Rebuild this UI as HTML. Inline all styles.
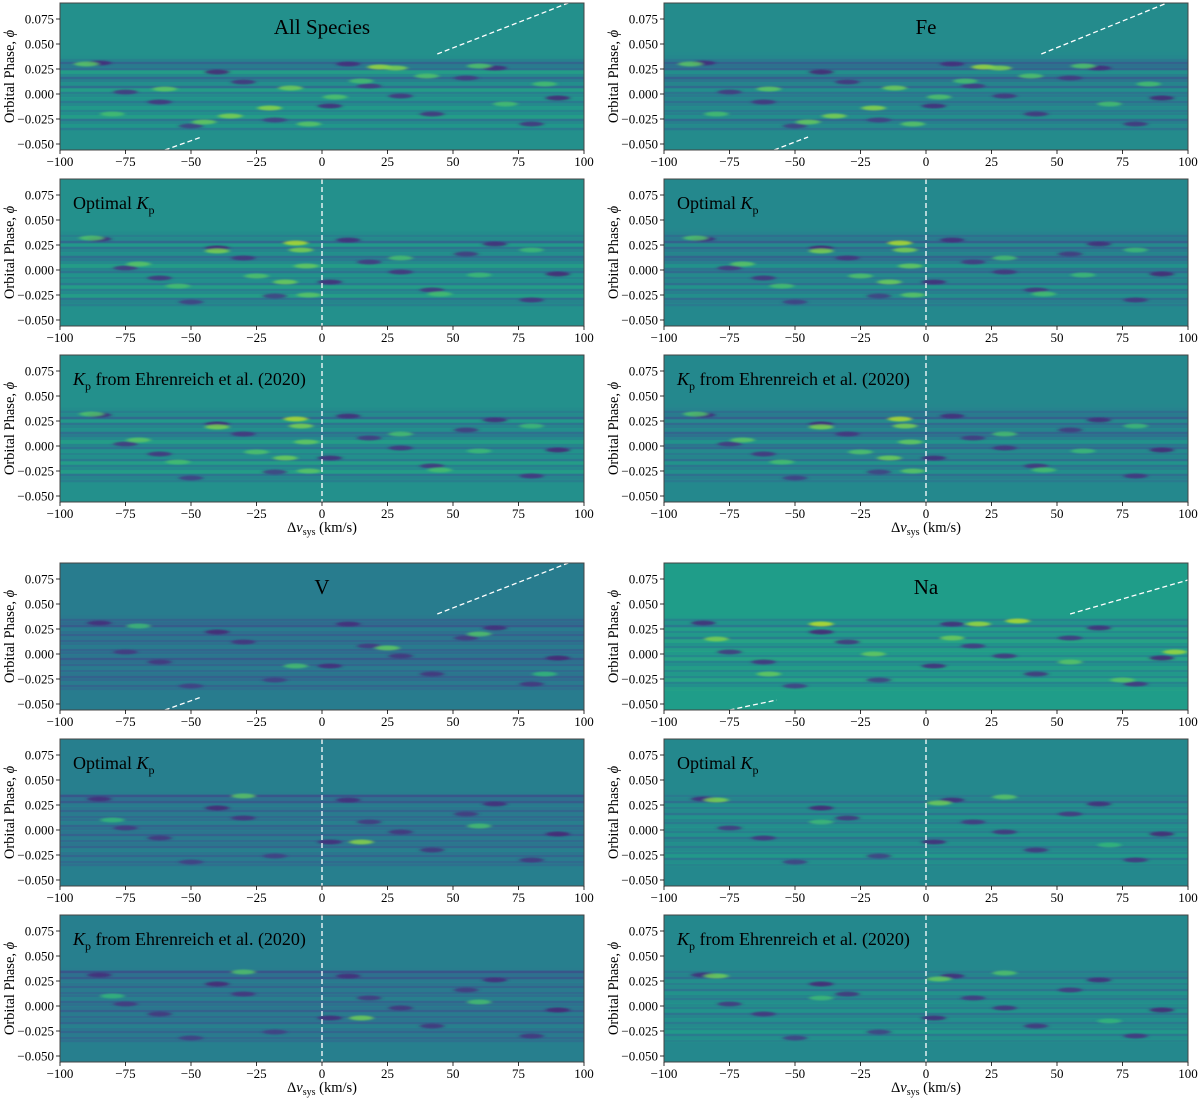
<!DOCTYPE html>
<html><head><meta charset="utf-8">
<style>
html,body{margin:0;padding:0;background:#fff;}
svg{display:block;font-family:"Liberation Serif","DejaVu Serif",serif;}
</style></head>
<body>
<svg id="fig" width="1200" height="1098" viewBox="0 0 1200 1098" xmlns="http://www.w3.org/2000/svg"></svg>
<script>
// ---- data ----
const xTicks = [-100, -75, -50, -25, 0, 25, 50, 75, 100];
const yTicks = [0.075, 0.050, 0.025, 0.000, -0.025, -0.050];
const yTickLabels = ["0.075", "0.050", "0.025", "0.000", "\u22120.025", "\u22120.050"];
const xTickLabels = ["\u2212100", "\u221275", "\u221250", "\u221225", "0", "25", "50", "75", "100"];
const rowPhases = [-0.036,-0.033,-0.030,-0.027,-0.024,-0.021,-0.018,-0.015,-0.012,-0.009,-0.006,-0.003,0.000,0.003,0.006,0.009,0.012,0.015,0.018,0.021,0.024,0.027,0.030,0.033,0.036,0.039];
const rowsAll  = [0.45,0.55,0.50,0.42,0.58,0.52,0.48,0.56,0.50,0.44,0.54,0.50,0.46,0.58,0.40,0.52,0.46,0.38,0.50,0.58,0.40,0.44,0.36,0.47,0.49,0.50];
const rowsFe   = [0.42,0.50,0.46,0.38,0.52,0.46,0.44,0.50,0.46,0.40,0.48,0.44,0.42,0.52,0.38,0.48,0.42,0.34,0.46,0.52,0.36,0.40,0.34,0.44,0.46,0.47];
const rowsFeKp = [0.44,0.46,0.40,0.52,0.46,0.42,0.54,0.40,0.48,0.44,0.50,0.38,0.42,0.54,0.46,0.40,0.36,0.48,0.44,0.38,0.50,0.34,0.44,0.40,0.44,0.46];
const rowsAKp  = [0.46,0.48,0.42,0.58,0.50,0.46,0.58,0.44,0.52,0.48,0.54,0.42,0.48,0.58,0.50,0.44,0.40,0.52,0.48,0.42,0.56,0.38,0.50,0.46,0.48,0.50];
const rowsV    = [0.40,0.36,0.44,0.38,0.34,0.42,0.38,0.44,0.36,0.40,0.32,0.42,0.38,0.36,0.44,0.40,0.36,0.42,0.34,0.40,0.44,0.32,0.38,0.36,0.40,0.42];
const rowsVKp  = [0.40,0.38,0.44,0.36,0.42,0.46,0.36,0.42,0.38,0.44,0.34,0.42,0.40,0.36,0.46,0.40,0.38,0.44,0.36,0.42,0.44,0.32,0.40,0.30,0.42,0.43];
const rowsNa   = [0.58,0.52,0.48,0.60,0.50,0.56,0.50,0.58,0.52,0.48,0.60,0.50,0.56,0.58,0.48,0.54,0.60,0.46,0.56,0.50,0.58,0.44,0.54,0.48,0.54,0.55];
const rowsNaKp = [0.48,0.52,0.44,0.56,0.48,0.50,0.44,0.52,0.48,0.42,0.54,0.46,0.50,0.52,0.44,0.48,0.54,0.42,0.50,0.46,0.52,0.40,0.48,0.44,0.46,0.47];
// bright spots: velocity, phase, value
const blobV     = [-35, -20, -12, 22, 28, 5, -60, 40, -80, 70, -90, -45, 60, 85, -5, 15];
const blobPhase = [-0.022, -0.014, 0.006, 0.027, 0.026, -0.003, 0.005, 0.018, -0.020, -0.010, 0.030, -0.028, 0.028, 0.010, -0.030, 0.013];
const blobVal   = [0.80, 0.82, 0.78, 0.85, 0.80, 0.72, 0.75, 0.72, 0.70, 0.70, 0.74, 0.76, 0.72, 0.70, 0.74, 0.70];
const kpBlobV     = [-10, -8, -6, -14, -5, -40, -70, 30, 60, -88, -55, 80, 45, -25];
const kpBlobPhase = [0.027, 0.020, 0.004, -0.012, -0.025, 0.019, 0.006, 0.012, -0.005, 0.032, -0.016, 0.020, -0.024, -0.006];
const kpBlobVal   = [0.88, 0.80, 0.76, 0.78, 0.74, 0.80, 0.74, 0.70, 0.68, 0.72, 0.70, 0.68, 0.70, 0.72];
const naBlobV     = [-40, 35, 20, -80, 10, 95, -60, 55, -20, 75];
const naBlobPhase = [0.030, 0.033, 0.030, 0.015, 0.016, 0.002, -0.020, -0.008, 0.000, -0.026];
const naBlobVal   = [0.90, 0.88, 0.85, 0.80, 0.78, 0.85, 0.76, 0.74, 0.76, 0.74];
// dark spots: velocity, phase, value
const darkV     = [-85, -62, -40, -18, 3, 18, 42, 66, 90, -75, -30, 10, 55, 80, -50, 30];
const darkPhase = [0.031, -0.008, 0.022, -0.026, -0.012, 0.008, -0.020, 0.026, -0.004, 0.002, 0.012, 0.030, 0.016, -0.030, -0.032, -0.002];
const darkVal   = [0.12, 0.15, 0.10, 0.18, 0.12, 0.16, 0.14, 0.12, 0.10, 0.16, 0.14, 0.12, 0.16, 0.15, 0.18, 0.14];

const VIR = [[68,1,84],[72,40,120],[62,74,137],[49,104,142],[38,130,142],[31,158,137],[53,183,121],[109,205,89],[180,222,44],[253,231,37]];
function viridis(t){t=Math.max(0,Math.min(1,t));const s=t*(VIR.length-1);const i=Math.min(VIR.length-2,Math.floor(s));const f=s-i;
 const c=VIR[i].map((a,k)=>Math.round(a+(VIR[i+1][k]-a)*f));return `rgb(${c[0]},${c[1]},${c[2]})`;}

const svg=document.getElementById('fig');const NS='http://www.w3.org/2000/svg';
function el(tag,attrs,parent){const e=document.createElementNS(NS,tag);for(const k in attrs)e.setAttribute(k,attrs[k]);(parent||svg).appendChild(e);return e;}
const defs=el('defs',{});
const flt=el('filter',{id:'soft',x:'-50%',y:'-100%',width:'200%',height:'300%'},defs);
el('feGaussianBlur',{stdDeviation:'2 0.8'},flt);

const XMIN=-100,XMAX=100,YMIN=-0.056,YMAX=0.091;
const colX=[60,664], rowY=[3,179,355,563,739,915], W=524, H=147;
const darkSet=[darkV,darkPhase,darkVal];

const panels=[
 {c:0,r:0,bg:0.50,rows:rowsAll,blobs:[blobV,blobPhase,blobVal],title:'All Species',diag:[[-60,-0.056,-46,-0.043],[44,0.040,94,0.091]]},
 {c:1,r:0,bg:0.48,rows:rowsFe,blobs:[blobV,blobPhase,blobVal],title:'Fe',diag:[[-58,-0.056,-45,-0.043],[44,0.040,92,0.091]]},
 {c:0,r:1,bg:0.50,rows:rowsAKp,blobs:[kpBlobV,kpBlobPhase,kpBlobVal],label:'opt'},
 {c:1,r:1,bg:0.47,rows:rowsFeKp,blobs:[kpBlobV,kpBlobPhase,kpBlobVal],label:'opt'},
 {c:0,r:2,bg:0.50,rows:rowsAKp,blobs:[kpBlobV,kpBlobPhase,kpBlobVal],label:'ehr',xlabel:true},
 {c:1,r:2,bg:0.47,rows:rowsFeKp,blobs:[kpBlobV,kpBlobPhase,kpBlobVal],label:'ehr',xlabel:true},
 {c:0,r:3,bg:0.42,rows:rowsV,blobs:[[25,60,-10,-70,85],[0.006,0.020,-0.012,0.028,-0.020],[0.75,0.72,0.70,0.68,0.66]],title:'V',diag:[[-60,-0.056,-46,-0.043],[44,0.040,94,0.091]]},
 {c:1,r:3,bg:0.55,rows:rowsNa,blobs:[naBlobV,naBlobPhase,naBlobVal],title:'Na',diag:[[-75,-0.056,-57,-0.046],[55,0.040,100,0.074]]},
 {c:0,r:4,bg:0.43,rows:rowsVKp,blobs:[[15,-30,60,-80],[-0.012,0.034,0.004,0.010],[0.82,0.74,0.70,0.66]],label:'opt'},
 {c:1,r:4,bg:0.47,rows:rowsNaKp,blobs:[[-80,5,30,-40,70],[0.030,0.027,0.033,0.008,-0.015],[0.80,0.78,0.74,0.68,0.66]],label:'opt'},
 {c:0,r:5,bg:0.43,rows:rowsVKp,blobs:[[15,-30,60,-80],[-0.012,0.034,0.004,0.010],[0.78,0.72,0.70,0.66]],label:'ehr',xlabel:true},
 {c:1,r:5,bg:0.47,rows:rowsNaKp,blobs:[[-80,5,30,-40,70],[0.030,0.027,0.033,0.008,-0.015],[0.78,0.76,0.72,0.68,0.66]],label:'ehr',xlabel:true},
];

panels.forEach((p,idx)=>{
 const x0=colX[p.c], y0=rowY[p.r];
 const sx=v=>x0+(v-XMIN)/(XMAX-XMIN)*W;
 const sy=ph=>y0+(YMAX-ph)/(YMAX-YMIN)*H;
 const g=el('g',{});
 
 
 const clipId='clip'+idx;
 const cp=el('clipPath',{id:clipId},g);el('rect',{x:x0,y:y0,width:W,height:H},cp);
 const bg=el('rect',{x:x0,y:y0,width:W,height:H,fill:viridis(p.bg)},g);
 
 
 const hm=el('g',{'clip-path':`url(#${clipId})`},g);
 
 
 p.rows.forEach((v,i)=>{
  const ph0=rowPhases[i], ph1=ph0+0.003;
  const edge=(i===rowPhases.length-1)?0.5:(i>=rowPhases.length-2?0.7:1);
  const val=p.bg+(v-p.bg)*edge;
  const r=el('rect',{x:x0,y:sy(ph1),width:W,height:sy(ph0)-sy(ph1)+0.5,fill:viridis(val)},hm);
  
  
 });
 p.rows.forEach((v,i)=>{
  const ph=rowPhases[i]+0.0015;
  if(i>=rowPhases.length-2) return;
  const r=el('rect',{x:x0,y:sy(ph),width:W,height:1,fill:viridis(v-0.12),opacity:0.5},hm);
  
  
 });
 const sg=el('g',{filter:'url(#soft)'},hm);
 [darkSet,p.blobs].forEach(set=>{
  const [bv,bp,bval]=set;
  bv.forEach((v,i)=>{
   const e=el('ellipse',{cx:sx(v),cy:sy(bp[i]),rx:12,ry:2.5,fill:viridis(bval[i]),opacity:0.85},sg);
   
   
  });
 });
 if(p.diag) p.diag.forEach(d=>{
  const l=el('line',{x1:sx(d[0]),y1:sy(d[1]),x2:sx(d[2]),y2:sy(d[3]),stroke:'#fff','stroke-width':1.3,'stroke-dasharray':'5,3'},hm);
  
  
 });
 if(p.label){
  const l=el('line',{x1:sx(0),y1:y0,x2:sx(0),y2:y0+H,stroke:'#fff','stroke-width':1.3,'stroke-dasharray':'5,3'},hm);
  
  
 }
 const fr=el('rect',{x:x0,y:y0,width:W,height:H,fill:'none',stroke:'#444','stroke-width':1},g);
 
 
 if(p.title){
  const t=el('text',{x:sx(0),y:y0+31,'text-anchor':'middle','font-size':21,fill:'#000'},g);
  t.textContent=p.title;
  
  
 }
 if(p.label){
  const t=el('text',{x:x0+13,y:y0+30,'font-size':18,fill:'#000'},g);
  
  
  if(p.label==='opt'){
   t.innerHTML='Optimal <tspan font-style="italic">K</tspan><tspan font-size="12" dy="5">p</tspan>';
  } else {
   t.innerHTML='<tspan font-style="italic">K</tspan><tspan font-size="12" dy="5">p</tspan><tspan dy="-5"> from Ehrenreich et al. (2020)</tspan>';
  }
 }
 xTicks.forEach((v,i)=>{
  el('line',{x1:sx(v),y1:y0+H,x2:sx(v),y2:y0+H+4,stroke:'#000','stroke-width':0.8},g);
  const t=el('text',{x:sx(v),y:y0+H+16,'text-anchor':'middle','font-size':13},g);
  t.textContent=xTickLabels[i];
  
  
 });
 yTicks.forEach((v,i)=>{
  el('line',{x1:x0-4,y1:sy(v),x2:x0,y2:sy(v),stroke:'#000','stroke-width':0.8},g);
  const t=el('text',{x:x0-6,y:sy(v)+4.5,'text-anchor':'end','font-size':13},g);
  t.textContent=yTickLabels[i];
  
  
 });
 const yl=el('text',{x:0,y:0,'text-anchor':'middle','font-size':14.5,transform:`translate(${x0-46},${y0+H/2}) rotate(-90)`},g);
 yl.innerHTML='Orbital Phase, <tspan font-style="italic">\u03D5</tspan>';
 
 
 if(p.xlabel){
  const xl=el('text',{x:sx(0),y:y0+H+30,'text-anchor':'middle','font-size':14.5},g);
  xl.innerHTML='\u0394<tspan font-style="italic">v</tspan><tspan font-size="10" dy="3">sys</tspan><tspan dy="-3"> (km/s)</tspan>';
  
  
 }
});
</script>
</body></html>
